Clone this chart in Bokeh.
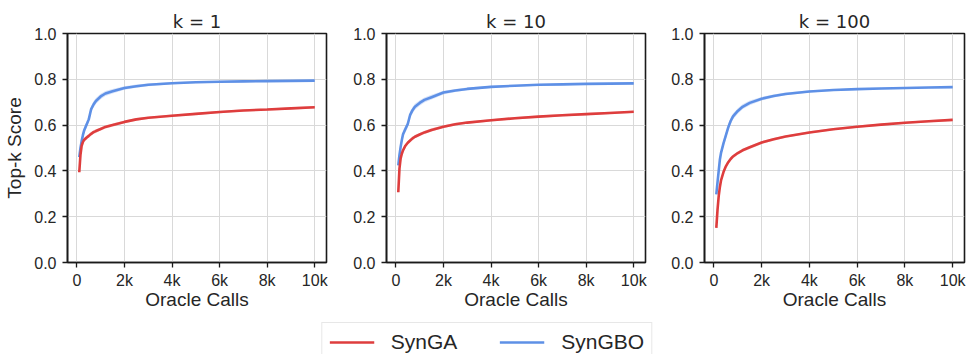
import numpy as np
from bokeh.plotting import figure
from bokeh.models import Legend, LegendItem, FixedTicker
from bokeh.layouts import row, column
from bokeh.embed import file_html
from bokeh.resources import INLINE

# ---------------- data ----------------
oracle_calls = [100, 150, 200, 250, 300, 400, 500, 600, 700, 800, 1000, 1200,
                1500, 2000, 2500, 3000, 4000, 5000, 6000, 7000, 8000, 9000, 10000]

syngbo_k1 = [0.460, 0.500, 0.530, 0.555, 0.575, 0.600, 0.625, 0.670, 0.690, 0.705, 0.725, 0.738,
             0.748, 0.762, 0.770, 0.776, 0.783, 0.787, 0.789, 0.791, 0.792, 0.793, 0.794]
synga_k1 = [0.394, 0.470, 0.510, 0.525, 0.535, 0.545, 0.553, 0.562, 0.569, 0.574, 0.583, 0.592,
            0.600, 0.614, 0.625, 0.632, 0.641, 0.649, 0.657, 0.664, 0.668, 0.673, 0.678]

syngbo_k10 = [0.424, 0.470, 0.505, 0.535, 0.560, 0.583, 0.605, 0.645, 0.665, 0.680, 0.697, 0.710,
              0.722, 0.742, 0.751, 0.758, 0.767, 0.772, 0.776, 0.778, 0.780, 0.781, 0.782]
synga_k10 = [0.307, 0.410, 0.455, 0.475, 0.490, 0.510, 0.523, 0.533, 0.542, 0.549, 0.559, 0.568,
             0.579, 0.593, 0.604, 0.611, 0.621, 0.630, 0.637, 0.643, 0.648, 0.653, 0.658]

syngbo_k100 = [0.297, 0.350, 0.400, 0.450, 0.480, 0.520, 0.555, 0.590, 0.618, 0.638, 0.662, 0.680,
               0.697, 0.715, 0.727, 0.736, 0.747, 0.753, 0.757, 0.760, 0.762, 0.764, 0.766]
synga_k100 = [0.151, 0.230, 0.290, 0.330, 0.360, 0.395, 0.420, 0.438, 0.452, 0.463, 0.478, 0.490,
              0.503, 0.524, 0.538, 0.550, 0.568, 0.582, 0.593, 0.602, 0.610, 0.617, 0.623]

# half-width of the shaded spread bands
spread_gbo = [0.010, 0.012, 0.014, 0.015, 0.015, 0.015, 0.015, 0.015, 0.014, 0.013, 0.012, 0.011,
              0.010, 0.008, 0.007, 0.006, 0.005, 0.004, 0.004, 0.004, 0.004, 0.004, 0.004]
spread_ga = [0.008, 0.009, 0.009, 0.009, 0.009, 0.009, 0.008, 0.008, 0.008, 0.008, 0.007, 0.007,
             0.007, 0.006, 0.006, 0.005, 0.005, 0.005, 0.005, 0.005, 0.005, 0.005, 0.005]

panel_titles = ["k = 1", "k = 10", "k = 100"]
panel_ga = [synga_k1, synga_k10, synga_k100]
panel_gbo = [syngbo_k1, syngbo_k10, syngbo_k100]

x_ticks = [0, 2000, 4000, 6000, 8000, 10000]
x_tick_labels = ["0", "2k", "4k", "6k", "8k", "10k"]
y_ticks = [0.0, 0.2, 0.4, 0.6, 0.8, 1.0]
y_tick_labels = ["0.0", "0.2", "0.4", "0.6", "0.8", "1.0"]

series_names = ["SynGA", "SynGBO"]
y_label = "Top-k Score"
x_label = "Oracle Calls"

# ---------------- styling / layout ----------------
RED = "#de3d3d"
BLUE = "#5e90e6"
TXT = "#262626"
FONT = "Liberation Sans"
TFONT = "DejaVu Sans"

W = 967
MID_H = 316
FRAME_TOP = 33
FRAME_H = 229

widths = [328, 319, 320]
borders_left = [67, 58, 57]
borders_right = [2, 2, 3]

figs = []
for i in range(3):
    p = figure(width=widths[i], height=MID_H, x_range=(-395, 10495), y_range=(0, 1),
               output_backend="svg", toolbar_location=None,
               min_border_left=borders_left[i], min_border_right=borders_right[i],
               min_border_top=FRAME_TOP, min_border_bottom=MID_H - FRAME_TOP - FRAME_H)
    p.background_fill_color = "white"
    p.outline_line_color = "#1a1a1a"
    p.outline_line_width = 1.6

    p.title.text = panel_titles[i]
    p.title.align = "center"
    p.title.text_font = TFONT
    p.title.text_font_size = "18px"
    p.title.text_font_style = "normal"
    p.title.text_color = TXT
    p.title.standoff = 3

    x = np.array(oracle_calls, dtype=float)
    ga = np.array(panel_ga[i])
    gbo = np.array(panel_gbo[i])
    sga = np.array(spread_ga)
    sgbo = np.array(spread_gbo)

    p.varea(x=x, y1=gbo - sgbo, y2=gbo + sgbo, fill_color=BLUE, fill_alpha=0.25)
    p.varea(x=x, y1=ga - sga, y2=ga + sga, fill_color=RED, fill_alpha=0.25)
    p.line(x, gbo, line_color=BLUE, line_width=2.6)
    p.line(x, ga, line_color=RED, line_width=2.6)

    p.xaxis.ticker = FixedTicker(ticks=x_ticks)
    p.xaxis.major_label_overrides = {t: l for t, l in zip(x_ticks, x_tick_labels)}
    p.yaxis.ticker = FixedTicker(ticks=y_ticks)
    p.yaxis.major_label_overrides = {t: l for t, l in zip(y_ticks, y_tick_labels)}

    for ax in (p.xaxis, p.yaxis):
        ax.axis_line_color = "#1a1a1a"
        ax.axis_line_width = 1.6
        ax.major_tick_line_color = "#1a1a1a"
        ax.major_tick_line_width = 1.3
        ax.major_tick_out = 5
        ax.major_tick_in = 0
        ax.minor_tick_line_color = None
        ax.major_label_text_font = FONT
        ax.major_label_text_font_size = "16px"
        ax.major_label_text_color = TXT
        ax.axis_label_text_font = FONT
        ax.axis_label_text_font_size = "19px"
        ax.axis_label_text_font_style = "normal"
        ax.axis_label_text_color = TXT
    p.xaxis.major_label_standoff = 4
    p.yaxis.major_label_standoff = 6
    p.xaxis.axis_label = x_label
    p.xaxis.axis_label_standoff = -3
    if i == 0:
        p.yaxis.axis_label = y_label
        p.yaxis.axis_label_standoff = 6

    p.grid.grid_line_color = "#d9d9d9"
    p.grid.grid_line_width = 1
    p.xgrid.ticker = FixedTicker(ticks=x_ticks)
    p.ygrid.ticker = FixedTicker(ticks=y_ticks)
    figs.append(p)

# ---------- legend strip ----------
LEG_H = 354 - MID_H
pl = figure(width=W, height=LEG_H, output_backend="svg", toolbar_location=None,
            x_axis_type=None, y_axis_type=None, min_border=0,
            min_border_left=6, x_range=(0, 1), y_range=(0, 1))
pl.outline_line_color = None
pl.grid.visible = False
r_ga = pl.line(x=[-5, -4], y=[-5, -5], line_color=RED, line_width=2.6)
r_gbo = pl.line(x=[-5, -4], y=[-5, -5], line_color=BLUE, line_width=2.6)
legend = Legend(items=[LegendItem(label=series_names[0], renderers=[r_ga]),
                       LegendItem(label=series_names[1], renderers=[r_gbo])],
                orientation="horizontal", location="top", margin=6,
                padding=7, spacing=42, glyph_width=45, label_standoff=17,
                label_text_font=FONT, label_text_font_size="21px",
                label_text_color=TXT,
                border_line_color="#d0d0d0", border_line_width=1,
                background_fill_color="white", background_fill_alpha=1.0)
pl.add_layout(legend, "center")

layout = column(row(*figs), pl)
open("out.html", "w").write(file_html(layout, INLINE))
